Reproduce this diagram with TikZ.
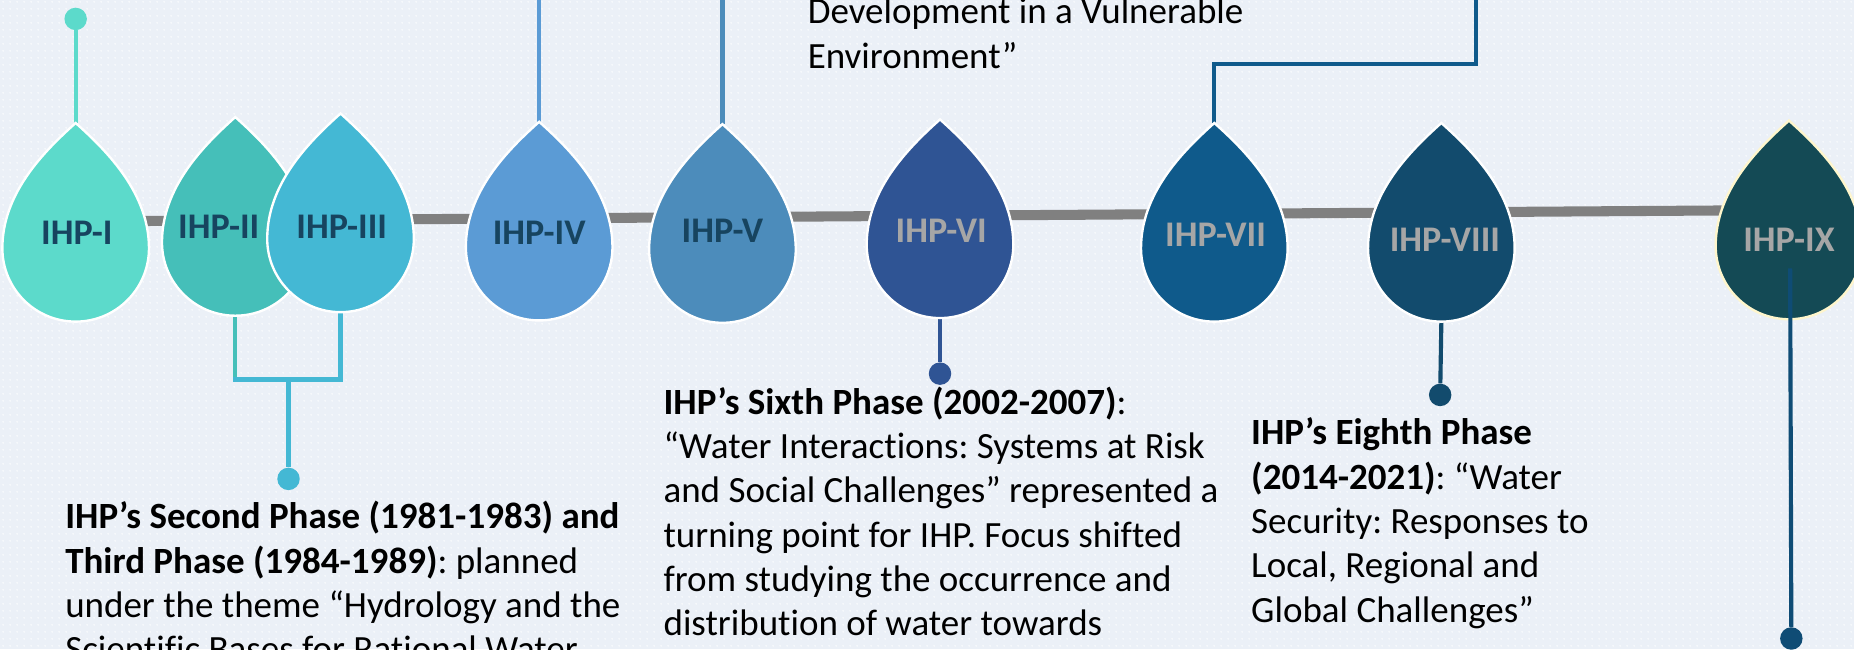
\documentclass[tikz,border=0pt]{standalone}
\usepackage{fontspec}
\setmainfont{Carlito}[Ligatures=NoCommon]
\usetikzlibrary{patterns.meta}
\frenchspacing

\definecolor{bgcol}{HTML}{EBF0F7}
\definecolor{dotcol}{HTML}{F7F9FC}
\definecolor{tlgray}{HTML}{808080}
\definecolor{c1}{HTML}{5CDACB}
\definecolor{c2}{HTML}{45BFB9}
\definecolor{c3}{HTML}{44B8D4}
\definecolor{c4}{HTML}{5B9BD5}
\definecolor{c5}{HTML}{4C8CBB}
\definecolor{c6}{HTML}{2F5494}
\definecolor{c7}{HTML}{0F5A8B}
\definecolor{c8}{HTML}{124B6D}
\definecolor{c9}{HTML}{144A55}
\definecolor{c9line}{HTML}{0F4C75}
\definecolor{rimpale}{HTML}{FFF6CC}
\definecolor{labdark}{HTML}{17445F}
\definecolor{labgray}{HTML}{A6A6A6}

% fine dotted texture for the backdrop
\tikzdeclarepattern{
  name=bgdots,
  type=uncolored,
  bounding box={(0pt,0pt) and (5.6pt,5.6pt)},
  tile size={(5.6pt,5.6pt)},
  code={\fill (2.8pt,2.8pt) circle (0.9pt);}
}

\begin{document}
\begin{tikzpicture}[x=1pt,y=1pt,
  conn/.style={line width=3.5pt},
  pindot/.style={circle, inner sep=0pt, minimum size=19pt},
  lab/.style={inner sep=0pt, font=\fontsize{30.5}{36}\selectfont\bfseries},
  para/.style={anchor=north west, align=left, inner sep=0pt,
    font=\fontsize{31.3}{37.5}\selectfont, text=black},
  timeline/.style={line width=8.5pt, draw=tlgray},
  % teardrop: origin at the tip, round end 168 below
  pics/drop/.style n args={2}{code={
    \fill[#1, draw=#2, line width=2pt]
      (0,0) .. controls (28,-25) and (62,-60) .. (62,-106)
      arc[start angle=0, end angle=-180, radius=62]
      .. controls (-62,-60) and (-28,-25) .. (0,0) -- cycle;
    \coordinate (-tip) at (0,0);
    \coordinate (-bot) at (0,-168);
  }}
]
\useasboundingbox (0,0) rectangle (1568,-549);
\clip (0,0) rectangle (1568,-549);

% backdrop
\fill[bgcol] (0,0) rectangle (1568,-549);
\fill[pattern=bgdots, pattern color=dotcol] (0,0) rectangle (1568,-549);

% timeline bar
\coordinate (tl0) at (110,-187);
\coordinate (tl1) at (1456,-178);
\draw[timeline] (tl0) -- (tl1);

% pin dots at the free ends of the leaders
\node[pindot, fill=c1] (p1) at (64,-16) {};
\node[pindot, fill=c3] (p23) at (244,-405) {};
\node[pindot, fill=c6] (p6) at (795,-316) {};
\node[pindot, fill=c8] (p8) at (1218,-334) {};
\node[pindot, fill=c9line] (p9) at (1515,-540) {};

% leader anchor points
\coordinate (j23) at (244,-321);
\coordinate (t4) at (456,3);
\coordinate (t5) at (611,3);
\coordinate (e7) at (1248,-54);
\coordinate (t7) at (1248,3);
\coordinate (k9) at (1514,-227);

% tips and round ends of the drops, used by the leaders
\path (64,-104) coordinate (d1-tip);
\path (199,-99) coordinate (d2-tip) ++(0,-168) coordinate (d2-bot);
\path (288,-96) coordinate (d3-tip) ++(0,-168) coordinate (d3-bot);
\path (456,-103) coordinate (d4-tip);
\path (611,-105) coordinate (d5-tip);
\path (795,-101) coordinate (d6-tip) ++(0,-168) coordinate (d6-bot);
\path (1027,-104) coordinate (d7-tip);
\path (1219,-104) coordinate (d8-tip) ++(0,-168) coordinate (d8-bot);

% leaders behind the drops
\draw[conn, c1] (d1-tip) -- (p1);
\draw[conn, c2] (d2-bot) -- (d2-bot |- j23);
\draw[conn, c3, line cap=rect] (d2-bot |- j23) -| (d3-bot);
\draw[conn, c3] (j23) -- (p23);
\draw[conn, c4] (d4-tip) -- (t4);
\draw[conn, c5] (d5-tip) -- (t5);
\draw[conn, c6] (d6-bot) -- (p6);
\draw[conn, c7] (d7-tip) |- (e7) -- (t7);
\draw[conn, c8] (d8-bot) -- (p8);

% drops
\pic (d1) at (64,-104) {drop={c1}{white}};
\pic (d2) at (199,-99) {drop={c2}{white}};
\pic (d3) at (288,-96) {drop={c3}{white}};
\pic (d4) at (456,-103) {drop={c4}{white}};
\pic (d5) at (611,-105) {drop={c5}{white}};
\pic (d6) at (795,-101) {drop={c6}{white}};
\pic (d7) at (1027,-104) {drop={c7}{white}};
\pic (d8) at (1219,-104) {drop={c8}{white}};
\pic (d9) at (1513,-102) {drop={c9}{rimpale}};

% phase labels
\node[lab, text=labdark] (l1) at (65,-197) {IHP-I};
\node[lab, text=labdark] (l2) at (185,-192) {IHP-II};
\node[lab, text=labdark] (l3) at (289,-192) {IHP-III};
\node[lab, text=labdark] (l4) at (456,-197) {IHP-IV};
\node[lab, text=labdark] (l5) at (611,-195) {IHP-V};
\node[lab, text=labgray] (l6) at (796,-195) {IHP-VI};
\node[lab, text=labgray] (l7) at (1028,-199) {IHP-VII};
\node[lab, text=labgray] (l8) at (1222,-203) {IHP-VIII};
\node[lab, text=labgray] (l9) at (1513,-203) {IHP-IX};

% leader running down out of the last drop
\draw[conn, c9line] (k9) -- (p9);

% descriptions
\node[para] (n5) at (683,6.25) {\strut Development in a Vulnerable\\Environment”};
\node[para] (n23) at (55,-420.75) {{\bfseries\strut IHP’s Second Phase (1981-1983) and}\\
  {\bfseries Third Phase (1984-1989)}: planned\\
  under the theme “Hydrology and the\\
  Scientific Bases for Rational Water};
\node[para] (n6) at (561,-323.75) {{\bfseries\strut IHP’s Sixth Phase (2002-2007)}:\\
  “Water Interactions: Systems at Risk\\
  and Social Challenges” represented a\\
  turning point for IHP. Focus shifted\\
  from studying the occurrence and\\
  distribution of water towards};
\node[para] (n8) at (1058,-349.75) {{\bfseries\strut IHP’s Eighth Phase}\\
  {\bfseries (2014-2021)}: “Water\\
  Security: Responses to\\
  Local, Regional and\\
  Global Challenges”};
\end{tikzpicture}
\end{document}
